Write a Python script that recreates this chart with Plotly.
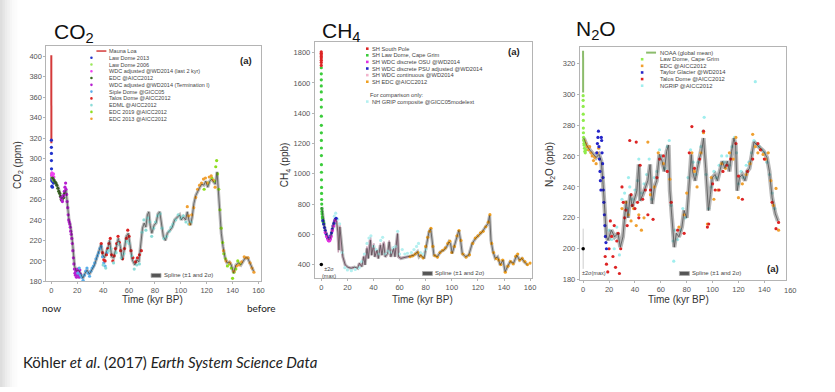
import plotly.graph_objects as go

W, H = 835, 392
FONT = "Liberation Sans"

# ---------------------------------------------------------------- CO2 data
co2_spline = [(0, 282), (1.3, 280), (3.1, 277), (5.1, 272), (6.7, 266), (7.7, 261), (9.2, 262), (10.2, 267),
              (11.3, 269), (12.3, 256), (13.6, 240), (14.6, 235), (15.6, 227), (16.6, 214), (17.9, 195),
              (19.2, 190), (21, 191), (22.5, 188), (24.3, 183), (26.1, 188), (27.6, 191), (29.4, 187),
              (31.2, 191), (33.3, 196), (35.3, 204), (37.1, 211), (38.4, 216), (39.7, 206), (41, 203),
              (42.5, 209), (44, 214), (45, 220), (46.6, 204), (48.1, 203), (49.9, 214), (51.7, 222),
              (53.3, 214), (54.8, 201), (56.3, 211), (57.9, 224), (59.4, 227), (60.9, 214), (62.5, 201),
              (64.5, 196), (66, 201), (67.6, 199), (69.1, 214), (70.4, 232), (71.7, 237), (73, 233),
              (74.2, 245), (75.3, 248), (76.3, 235), (77.6, 227), (79.4, 235), (80.9, 237), (82.4, 246),
              (83.7, 248), (85, 237), (86.5, 224), (88.1, 220), (89.6, 227), (91.7, 230), (93.4, 233),
              (95.2, 240), (97.3, 243), (99.1, 245), (100.4, 240), (101.9, 243), (103.7, 240), (105, 248),
              (106.2, 240), (107.5, 235), (108.8, 243), (110.1, 256), (111.6, 264), (113.2, 269),
              (114.7, 272), (116.2, 275), (117.8, 274), (119.3, 278), (120.8, 272), (122.4, 278),
              (123.9, 280), (125.4, 277), (126.7, 275), (128, 287), (129, 266), (130, 246), (131.3, 227),
              (132.6, 214), (134.2, 203), (135.7, 198), (137.5, 199), (139, 196), (140.8, 188), (142.6, 196),
              (144.6, 198), (146.4, 196), (148, 199), (149.8, 203), (151.6, 203), (153.1, 199), (154.9, 195),
              (156.2, 190)]
co2_mauna_loa = [(-0.008, 315), (-0.015, 320), (-0.025, 331), (-0.035, 346), (-0.045, 361), (-0.055, 380),
                 (-0.065, 401)]
co2_law_dome_2013 = [(0.0, 311), (0.01, 318), (0.02, 305), (0.05, 298), (0.1, 290), (0.15, 284), (0.2, 281),
                     (0.3, 279), (0.4, 273), (0.5, 278), (0.7, 280), (0.8, 272), (0.9, 282), (1.1, 279),
                     (1.3, 277), (1.5, 280), (1.7, 276)]
co2_law_dome_2006 = [(0.05, 285), (0.3, 282), (0.6, 281), (1.0, 283), (1.4, 279)]
co2_wdc_last2 = [(0.1, 284), (0.4, 286), (0.8, 283), (1.2, 281), (1.6, 285), (1.9, 282)]
co2_edc = [(1.0, 281), (2.0, 279), (2.8, 277), (3.5, 276), (4.2, 274), (5.0, 271), (5.7, 268), (6.4, 266),
           (7.0, 263), (7.6, 260), (8.2, 259), (8.8, 261), (9.5, 262), (10.2, 266)]
co2_wdc_term1 = [(7.5, 262), (8.0, 260), (8.5, 258), (9.0, 263), (9.5, 264), (10.0, 268), (10.5, 272),
                 (11.0, 276), (11.3, 270), (11.8, 265), (12.2, 258), (12.6, 252), (13.0, 245), (13.4, 240),
                 (13.8, 238), (14.2, 236), (14.6, 233), (15.0, 229), (15.4, 226), (15.8, 222), (16.2, 217),
                 (16.6, 210), (17.0, 203), (17.4, 197), (17.8, 192), (18.2, 188), (18.6, 186), (19.0, 190),
                 (19.4, 184), (19.8, 187), (20.2, 192), (20.6, 186), (21.0, 189), (21.5, 184), (22.0, 191),
                 (22.5, 187)]
co2_siple = [(20.5, 188), (21.5, 193), (22.5, 186), (23.5, 184), (24.5, 181), (25.5, 186), (26.5, 190),
             (27.5, 193), (28.5, 188), (29.5, 185), (30.5, 190), (31.5, 193), (32.5, 195), (33.5, 198),
             (34.5, 202), (35.5, 205), (36.5, 208), (37.5, 212), (38.5, 214), (39.5, 204), (40.5, 198),
             (41.5, 195), (43, 208)]
co2_talos = [(38.5, 217), (39.5, 208), (40.5, 201), (41.5, 200), (42.5, 206), (43.5, 212), (44.5, 217),
             (45.5, 222), (46.5, 206), (47.5, 200), (48.5, 205), (49.5, 212), (50.5, 217), (51.5, 224),
             (52.5, 218), (53.5, 210), (55, 202), (56.5, 212), (58, 222), (59, 230), (60, 224), (61.5, 210),
             (63, 203), (65, 199), (66.5, 203), (68, 206), (69.5, 210)]
co2_edml = [(40, 196), (42, 193), (44, 210), (46, 212), (48, 198), (50, 208), (52, 217), (54, 203), (56, 207),
            (58, 219), (60, 217), (62, 205), (64, 192), (66, 196), (68, 197), (70, 228), (71.5, 240), (73, 230),
            (74.5, 242), (76, 238), (77.5, 224), (79, 232), (80.5, 238), (82, 244), (84, 246), (85.5, 232),
            (87, 222), (89, 224), (91, 229), (92.5, 233), (94, 236), (96, 240), (98, 245), (100, 242),
            (102, 244), (104, 238), (106, 236), (108, 238)]
co2_edc2019 = [(118, 270), (121, 276), (124, 281), (126, 278), (127, 292), (127.7, 298), (128.4, 285),
               (129.3, 270), (130.2, 250), (131.2, 232), (132.3, 218), (133.3, 207), (134.5, 202), (136, 195),
               (137.5, 197), (139, 193), (140, 183), (141, 189), (142.5, 192), (144, 200), (145.5, 197)]
co2_edc2013 = [(105, 253), (106, 244), (107, 236), (108.5, 245), (110, 252), (111.5, 262), (113, 270),
               (114.5, 274), (116, 276), (117.5, 280), (119, 281), (120.5, 276), (122, 282), (123.5, 283),
               (125, 279), (126.5, 272), (133, 210), (135, 200), (138, 198), (141, 190), (143, 195), (145, 196),
               (147, 199), (149, 204), (150.5, 203), (152, 203), (153.5, 198), (155, 193), (156.5, 189)]

co2_names = ["Mauna Loa", "Law Dome 2013", "Law Dome 2006", "WDC adjusted @WD2014 (last 2 kyr)",
             "EDC @AICC2012", "WDC adjusted @WD2014 (Termination I)", "Siple Dome @GICC05",
             "Talos Dome @AICC2012", "EDML @AICC2012", "EDC 2019 @AICC2012", "EDC 2013 @AICC2012"]
co2_colors = ["#d43a3a", "#2233cc", "#9be85a", "#f040f0", "#3b6a22", "#b61fd0", "#5aaeea", "#dd2424",
              "#8cdcd8", "#8ede20", "#f0a033"]
co2_data = [co2_mauna_loa, co2_law_dome_2013, co2_law_dome_2006, co2_wdc_last2, co2_edc, co2_wdc_term1,
            co2_siple, co2_talos, co2_edml, co2_edc2019, co2_edc2013]
co2_kinds = ["line"] + ["dot"] * 10

# ---------------------------------------------------------------- CH4 data
ch4_spline = [(0.3, 780), (0.8, 735), (2, 670), (3.3, 615), (4.6, 583), (5.6, 565), (6.9, 572), (8.1, 626),
              (9.4, 670), (10.7, 702), (11.7, 680), (12.7, 615), (13.5, 496), (14.2, 648), (15.2, 539),
              (16.5, 452), (18.3, 398), (20.3, 383), (22.9, 376), (25.4, 383), (27.9, 376), (29.2, 409),
              (31, 387), (32.5, 452), (33.5, 398), (35, 507), (36, 441), (37.6, 561), (38.6, 463), (40, 528),
              (41, 452), (42.7, 496), (43.7, 441), (45.2, 528), (46.5, 463), (47.7, 539), (49, 452),
              (50.8, 474), (52, 550), (53.3, 452), (55.4, 507), (56.4, 452), (58.4, 604), (59.2, 452),
              (61, 441), (63.5, 448), (66, 452), (68.6, 457), (71.1, 463), (73.7, 485), (74.9, 452),
              (76.2, 463), (78.7, 441), (80.8, 539), (82.5, 615), (83.8, 637), (85, 539), (86.3, 463),
              (88.9, 452), (91.4, 485), (94, 496), (96, 517), (97.8, 550), (99, 539), (100.3, 474),
              (101.6, 517), (103.6, 583), (105.4, 626), (106.7, 561), (108, 474), (110.5, 452), (113, 463),
              (115.6, 539), (118.1, 572), (120.6, 593), (123.2, 615), (125.7, 648), (127.7, 670), (129, 724),
              (130, 561), (131.6, 485), (133.3, 441), (135.1, 452), (137.1, 398), (139.2, 430), (140.9, 354),
              (142.7, 387), (144.8, 420), (147.3, 409), (149.8, 463), (151.9, 430), (153.7, 441),
              (155.4, 420), (158, 398)]
ch4_south_pole = [(-0.065, 1805), (-0.06, 1795), (-0.055, 1785), (-0.05, 1775), (-0.045, 1765),
                  (-0.04, 1750), (-0.035, 1735), (-0.03, 1715)]
ch4_law_dome = [(-0.03, 1700), (-0.025, 1660), (-0.02, 1620), (-0.015, 1580), (-0.01, 1540), (-0.005, 1490),
                (0.0, 1440), (0.01, 1380), (0.02, 1320), (0.03, 1270), (0.04, 1220), (0.05, 1170),
                (0.07, 1120), (0.09, 1060), (0.11, 1010), (0.14, 960), (0.17, 910), (0.2, 870), (0.25, 830),
                (0.3, 800), (0.4, 770), (0.5, 750), (0.6, 735), (0.8, 715), (1.0, 705), (1.3, 690), (1.6, 680),
                (1.9, 670)]
ch4_wdc_osu = [(3, 612), (4, 585), (5, 566), (5.5, 558), (6, 556), (6.5, 560), (7, 570), (7.5, 585),
               (8.5, 625), (9.5, 655), (10.5, 690)]
ch4_wdc_psu = [(1.2, 690), (1.8, 668), (2.4, 645), (3.0, 625), (3.6, 605), (4.2, 590), (4.8, 578), (5.4, 570),
               (6.0, 568), (6.6, 574), (7.2, 590), (7.8, 610), (8.4, 635), (9.0, 655), (9.6, 672), (10.2, 688),
               (10.8, 700), (11.4, 706)]
ch4_wdc_cont = [(11.5, 700), (12, 690), (12.5, 640), (13, 480), (13.3, 600), (13.8, 650), (14.3, 660),
                (14.8, 560), (15.5, 480), (16.5, 450), (17.5, 420), (18.5, 395), (20, 385), (22, 378),
                (24, 382), (26, 374), (28, 380), (29, 410), (30, 390), (31.5, 400), (32.5, 460), (33.5, 400),
                (34.5, 480), (35, 520), (35.8, 440), (37, 560), (37.8, 580), (38.5, 460), (39.5, 520),
                (40.3, 540), (41, 450), (42.5, 500), (43.5, 440), (44.5, 480), (45.2, 540), (46.3, 460),
                (47.5, 545), (48.2, 550), (49, 450), (50.5, 470), (51.5, 520), (52, 560), (53, 450),
                (54.5, 480), (55.5, 520), (56.5, 450), (57.5, 540), (58.4, 610), (59.2, 450), (60.5, 440),
                (62, 445), (64, 450), (66, 448), (68, 455)]
ch4_edc = [(68, 452), (70, 458), (72, 470), (74, 480), (76, 458), (78, 445), (80, 520), (81.5, 580),
           (83, 620), (84, 640), (85.5, 520), (87, 460), (89, 450), (91, 480), (93, 495), (95, 510), (97, 540),
           (98.5, 555), (100, 480), (102, 520), (104, 590), (105.5, 625), (107, 560), (108.5, 470), (111, 450),
           (113.5, 465), (116, 540), (118, 575), (120, 590), (122, 610), (124, 620), (126, 650), (128, 680),
           (129.2, 730), (130.5, 540), (132, 480), (134, 440), (136, 430), (137.5, 400), (139, 430),
           (141, 350), (143, 390), (145, 420), (147, 405), (149, 455), (150.5, 470), (152, 430), (154, 440),
           (156, 420), (158, 400), (160, 410)]
ch4_grip = [(10, 720), (11, 740), (12.5, 700), (14, 670), (16, 480), (18, 380), (20, 365), (23, 360), (26, 368),
            (29, 380), (31, 420), (33, 470), (35, 540), (36.5, 575), (38, 590), (40, 520), (42, 500),
            (44, 470), (45.5, 560), (47, 580), (49, 470), (51, 490), (53, 480), (55, 510), (57, 520),
            (58.5, 620), (60, 470), (62, 500), (64, 470), (66, 475), (69, 480), (71, 500), (73, 520),
            (74.5, 540), (76, 480), (78, 470), (80, 500)]
ch4_sigma = [(0, 400, 10)]

ch4_names = ["SH South Pole", "SH Law Dome, Cape Grim", "SH WDC discrete OSU @WD2014",
             "SH WDC discrete PSU adjusted @WD2014", "SH WDC continuous @WD2014", "SH EDC @AICC2012", "",
             "For comparison only:", "NH GRIP composite @GICC05modelext"]
ch4_colors = ["#dd2424", "#3ccc3c", "#e030e0", "#2424c8", "#f2b4cc", "#f0a020", None, None, "#b4f0f0"]

# ---------------------------------------------------------------- N2O data
n2o_spline = [(0.5, 271.5), (2.6, 267), (5, 264), (7.7, 261), (10, 259), (12.3, 261), (14, 256.6),
              (15.4, 241.7), (16.6, 224.7), (18, 207.7), (19.2, 205.5), (21.8, 212), (24.3, 207.7),
              (26.9, 210), (28.7, 201), (30.7, 207.7), (32, 220), (33.3, 231), (34.6, 220), (36.4, 235),
              (37.9, 227), (39.7, 233), (41.5, 237.5), (43, 254.5), (44, 231), (46, 235), (48, 239.6),
              (50, 244), (51.7, 254.5), (53.3, 229), (55, 239.6), (56.8, 244), (58.9, 261), (61, 256.6),
              (62.7, 250), (64.5, 263), (66, 267), (67, 237.5), (68.6, 220), (70.4, 201), (72, 210),
              (74, 207.7), (76.3, 214), (78, 224.7), (80, 220), (82, 241.7), (83.5, 261), (84.5, 250),
              (86.5, 244), (88.3, 252), (90, 259), (91.6, 263), (93, 271.5), (94.7, 252), (96.8, 224.7),
              (98.3, 235), (99.8, 246), (101.9, 248), (103.7, 244), (105.5, 250), (107.5, 256.6),
              (109.6, 252), (111.4, 256.6), (113, 250), (114.7, 263), (116.5, 271.5), (117.8, 267),
              (119, 237.5), (120.8, 246), (122.9, 248), (125, 244), (126.7, 250), (128.5, 252), (130, 259),
              (132, 269), (134.4, 267), (137, 265), (139.5, 263), (142, 259), (143.9, 250), (146, 233),
              (148.5, 222.6), (150.5, 218)]
n2o_noaa = [(-0.028, 301), (-0.035, 305), (-0.045, 311), (-0.055, 319), (-0.065, 328)]
n2o_law_dome = [(-0.02, 299), (-0.01, 296), (0.0, 292), (0.05, 287), (0.1, 283), (0.15, 278), (0.2, 275),
                (0.3, 272), (0.45, 270), (0.6, 268), (0.8, 267), (1.0, 265), (1.3, 263), (1.6, 262),
                (2.0, 264)]
n2o_edc = [(1, 270), (2, 268), (3, 266), (4, 264), (5, 266), (6, 262), (7, 260), (8, 257), (9, 259),
           (10, 255), (11, 262), (12, 265), (30, 226), (33, 230), (35, 222), (37, 218), (39, 226), (41, 215),
           (43, 222), (45, 212), (47, 220), (50, 269), (52, 235), (55, 240), (58, 262), (62, 255), (67, 245),
           (74, 214), (78, 222), (80, 236), (84, 262), (86, 250), (88, 240), (91, 262), (93, 275), (96, 216),
           (99, 246), (101, 232), (104, 238), (107, 255), (110, 252), (113, 262), (116, 258), (118, 272),
           (120, 233), (123, 242), (126, 248), (129, 255), (131, 274), (133, 266), (135, 262), (137, 264),
           (139, 261), (141, 258), (143, 262), (145, 244), (147, 228), (149, 239), (151, 212)]
n2o_taylor = [(10.5, 262), (11, 268), (11.4, 272), (11.8, 276), (12.2, 266), (12.6, 258), (13, 250),
              (13.3, 244), (13.7, 238), (14, 272), (14.3, 270), (14.6, 262), (15, 255), (15.3, 246),
              (15.6, 238), (16, 230), (16.4, 222), (16.8, 215), (17.2, 208), (17.6, 204), (18, 200)]
n2o_talos = [(17, 195), (18, 190), (19, 185), (20, 200), (21, 218), (22, 208), (23, 195), (24, 215),
             (25, 188), (26, 205), (27, 210), (28, 184), (29, 200), (30, 240), (31, 230), (32, 220), (33, 225),
             (34, 215), (36, 270), (37, 235), (38, 228), (40, 226), (41, 269), (42, 230), (43, 220), (44, 254),
             (46, 232), (48, 238), (50, 222), (52, 238), (54, 219), (57, 246), (59, 258), (62, 260), (65, 250),
             (68, 230), (73, 212), (78, 210), (82, 262), (84, 279), (86, 252), (90, 258), (93, 276), (96, 214),
             (97, 216), (100, 242), (102, 238), (105, 238), (108, 250), (111, 254), (114, 258), (118, 268),
             (120, 247), (123, 232), (127, 250), (131, 258), (135, 268), (137, 264), (140, 258), (146, 230),
             (149, 213), (151, 217)]
n2o_ngrip = [(20, 212), (22, 206), (24, 200), (26, 214), (28, 196), (30, 232), (32, 236), (34, 226), (35, 246),
             (36, 240), (38, 232), (40, 238), (42, 244), (43, 258), (45, 236), (47, 242), (49, 248), (51, 258),
             (53, 232), (55, 246), (57, 250), (59, 264), (61, 260), (63, 252), (65, 266), (66.5, 270),
             (68, 228), (69.5, 205), (70, 192), (71, 212), (73, 206), (75, 212), (77, 226), (79, 220),
             (81, 246), (83, 264), (85, 256), (87, 248), (89, 256), (91, 266), (92.5, 276), (93.5, 285),
             (95, 248), (97, 226), (99, 240), (101, 250), (103, 246), (105, 254), (107, 260), (109, 256),
             (111, 260), (113, 254), (115, 266), (117, 272), (118.5, 262), (120, 242), (122, 250), (124, 246),
             (126, 254), (128, 256), (130, 262), (132, 270), (133, 308), (134, 268), (136, 266), (138, 264),
             (140, 262), (142, 256), (144, 248), (146, 236), (148, 226)]
n2o_sigma = [(0, 200, 13)]

n2o_names = ["NOAA (global mean)", "Law Dome, Cape Grim", "EDC @AICC2012", "Taylor Glacier @WD2014",
             "Talos Dome @AICC2012", "NGRIP @AICC2012"]
n2o_colors = ["#8cbc6c", "#90ec4c", "#f0a030", "#2424c8", "#dd2424", "#a0eeee"]
n2o_kinds = ["line"] + ["dot"] * 5

x_ticks = [0, 20, 40, 60, 80, 100, 120, 140, 160]
co2_yticks = [180, 200, 220, 240, 260, 280, 300, 320, 340, 360, 380, 400]
ch4_yticks = [400, 600, 800, 1000, 1200, 1400, 1600, 1800]
n2o_yticks = [180, 200, 220, 240, 260, 280, 300, 320]

# ---------------------------------------------------------------- layout geometry (pixels)
panels = [
    dict(ax="", xpx=(46.7, 262.5), ypx=(47, 285), xr=(-3.84, 161.9), yr=(180, 409.6), yt=co2_yticks),
    dict(ax="2", xpx=(316.7, 535.0), ypx=(43, 282), xr=(-5.0, 161.3), yr=(309, 1867), yt=ch4_yticks),
    dict(ax="3", xpx=(583.3, 790.7), ypx=(48, 283.3), xr=(-2.6, 156.7), yr=(180, 330.2), yt=n2o_yticks),
]


def fx(p):
    return p / W


def fy(p):
    return 1 - p / H


def xs(d):
    return [a[0] for a in d]


def ys(d):
    return [a[1] for a in d]


fig = go.Figure()
axes = {}
for p in panels:
    a = p["ax"]
    tickfont = dict(family=FONT, size=7.5, color="#555555")
    common = dict(showline=True, linecolor="#b4b4b4", linewidth=1, mirror=True, ticks="outside", ticklen=2,
                  tickcolor="#b4b4b4", tickfont=tickfont, showgrid=False, zeroline=False)
    axes["xaxis" + a] = dict(common, domain=[fx(p["xpx"][0]), fx(p["xpx"][1])], range=list(p["xr"]),
                             tickvals=x_ticks, anchor="y" + a)
    axes["yaxis" + a] = dict(common, domain=[fy(p["ypx"][1]), fy(p["ypx"][0])], range=list(p["yr"]),
                             tickvals=p["yt"], anchor="x" + a)


def spline(data, a, band="rgba(120,120,120,0.5)", bw=3.2, core="#2a2a2a", cw=0.8, layer="band"):
    if layer == "band":
        fig.add_trace(go.Scatter(x=xs(data), y=ys(data), mode="lines", xaxis="x" + a, yaxis="y" + a,
                                 line=dict(color=band, width=bw), showlegend=False, hoverinfo="skip"))
    else:
        fig.add_trace(go.Scatter(x=xs(data), y=ys(data), mode="lines", xaxis="x" + a, yaxis="y" + a,
                                 line=dict(color=core, width=cw), opacity=0.7, showlegend=False,
                                 hoverinfo="skip"))


def pts(data, a, color, size=3.2):
    fig.add_trace(go.Scatter(x=xs(data), y=ys(data), mode="markers", xaxis="x" + a, yaxis="y" + a,
                             marker=dict(color=color, size=size, line=dict(width=0)), showlegend=False))


def line(data, a, color, width=1.5):
    fig.add_trace(go.Scatter(x=xs(data), y=ys(data), mode="lines", xaxis="x" + a, yaxis="y" + a,
                             line=dict(color=color, width=width), showlegend=False))


# CO2 panel
spline(co2_spline, "")
for d, c, k in zip(co2_data, co2_colors, co2_kinds):
    if k == "line":
        line(d, "", c, 2)
    else:
        pts(d, "", c)
spline(co2_spline, "", layer="core")

# CH4 panel
spline(ch4_spline, "2")
line(ch4_wdc_cont, "2", "#c7a1b6", 1.5)
pts(ch4_grip, "2", ch4_colors[8])
pts(ch4_edc, "2", ch4_colors[5])
pts(ch4_law_dome, "2", ch4_colors[1])
pts(ch4_south_pole, "2", ch4_colors[0])
pts(ch4_wdc_psu, "2", ch4_colors[3])
pts(ch4_wdc_osu, "2", ch4_colors[2])
spline(ch4_spline, "2", layer="core")
fig.add_trace(go.Scatter(x=[s[0] for s in ch4_sigma], y=[s[1] for s in ch4_sigma], mode="markers",
                         xaxis="x2", yaxis="y2", marker=dict(color="black", size=3.5),
                         error_y=dict(type="data", array=[s[2] for s in ch4_sigma], color="#cccccc",
                                      thickness=1, width=0), showlegend=False))

# N2O panel
pts(n2o_ngrip, "3", n2o_colors[5])
spline(n2o_spline, "3", band="rgba(80,80,80,0.42)", bw=4.2)
pts(n2o_edc, "3", n2o_colors[2])
pts(n2o_talos, "3", n2o_colors[4])
pts(n2o_taylor, "3", n2o_colors[3])
pts(n2o_law_dome, "3", n2o_colors[1])
line(n2o_noaa, "3", n2o_colors[0], 2)
spline(n2o_spline, "3", layer="core")
fig.add_trace(go.Scatter(x=[s[0] for s in n2o_sigma], y=[s[1] for s in n2o_sigma], mode="markers",
                         xaxis="x3", yaxis="y3", marker=dict(color="black", size=3.5),
                         error_y=dict(type="data", array=[s[2] for s in n2o_sigma], color="#cccccc",
                                      thickness=1, width=0), showlegend=False))

# ---------------------------------------------------------------- annotations
ann = []
shapes = []


def txt(x, y, text, size=6, color="#444444", xa="left", ya="middle", family=FONT, angle=0):
    ann.append(dict(x=fx(x), y=fy(y), xref="paper", yref="paper", text=text, showarrow=False,
                    xanchor=xa, yanchor=ya, textangle=angle,
                    font=dict(family=family, size=size, color=color)))


def swatch_line(x0, x1, y, color, width):
    shapes.append(dict(type="line", xref="paper", yref="paper", x0=fx(x0), x1=fx(x1), y0=fy(y), y1=fy(y),
                       line=dict(color=color, width=width)))


def swatch_dot(xc, y, color, r=1.3, kind="circle"):
    shapes.append(dict(type=kind, xref="paper", yref="paper", x0=fx(xc - r), x1=fx(xc + r), y0=fy(y + r),
                       y1=fy(y - r), fillcolor=color, line=dict(width=0)))


# legend CO2
for i, (n, c, k) in enumerate(zip(co2_names, co2_colors, co2_kinds)):
    yy = 51.7 + i * 6.85
    if k == "line":
        swatch_line(97, 107, yy, c, 1.5)
    else:
        swatch_dot(92, yy, c)
    txt(108, yy, n, size=5.5)

# legend CH4
for i, (n, c) in enumerate(zip(ch4_names, ch4_colors)):
    yy = 49.3 + i * 6.7
    if n == "":
        continue
    if c is not None:
        swatch_dot(369.5, yy, c, kind="rect")
        txt(372, yy, n, size=5.7)
    else:
        txt(370, yy, n, size=5.7)

# legend N2O
for i, (n, c, k) in enumerate(zip(n2o_names, n2o_colors, n2o_kinds)):
    yy = 53.3 + i * 6.7
    if k == "line":
        swatch_line(650, 660, yy, c, 2)
    else:
        swatch_dot(646, yy, c, kind="rect")
    txt(662, yy, n, size=5.8)

# spline keys
for x0, y0 in [(152, 279), (425, 277), (683.5, 277)]:
    shapes.append(dict(type="rect", xref="paper", yref="paper", x0=fx(x0), x1=fx(x0 + 10), y0=fy(y0 + 2),
                       y1=fy(y0 - 2), fillcolor="#555555", line=dict(color="#aaaaaa", width=0.8)))
    txt(x0 + 11, y0, "Spline (±1 and 2σ)", size=6)

# (a) labels
for x0, y0 in [(247.5, 61), (517.5, 52), (778, 272)]:
    txt(x0, y0, "<b>(a)</b>", size=9.5, color="#222222", xa="center")

# sigma labels
txt(321.5, 276, "±2σ<br>(max)", size=5.5)
txt(583.8, 277, "±2σ(max)", size=5.5)

# axis titles
for xc in [153, 425, 683]:
    txt(xc, 303.5, "Time (kyr BP)", size=10, color="#333333", xa="center")
txt(18.3, 167, "CO<sub>2</sub> (ppm)", size=10, color="#333333", xa="center", angle=-90)
txt(287, 167, "CH<sub>4</sub> (ppb)", size=10, color="#333333", xa="center", angle=-90)
txt(553.5, 167, "N<sub>2</sub>O (ppb)", size=10, color="#333333", xa="center", angle=-90)

# N2O "160" tick label lies beyond the frame
p3 = panels[2]
px160 = p3["xpx"][0] + (160 - p3["xr"][0]) / (p3["xr"][1] - p3["xr"][0]) * (p3["xpx"][1] - p3["xpx"][0])
txt(px160, 294.5, "160", size=7.5, color="#555555", xa="center")

# panel titles
txt(52, 33, "CO<sub>2</sub>", size=21, color="#111111", family="Liberation Sans")
txt(322, 32, "CH<sub>4</sub>", size=21, color="#111111", family="Liberation Sans")
txt(577, 30, "N<sub>2</sub>O", size=21, color="#111111", family="Liberation Sans")

# slide captions
txt(52, 312, "now", size=10, color="#222222", xa="center", family="Lato")
txt(263, 312, "before", size=10, color="#222222", xa="center", family="Lato")
txt(21, 366.5, "Köhler <i>et al</i>. (2017) <i>Earth System Science Data</i>", size=15, color="#222222",
    family="Lato")

# slide edge shadow
for i, alpha in enumerate([0.13, 0.10, 0.075, 0.055, 0.035, 0.02, 0.01]):
    shapes.append(dict(type="rect", xref="paper", yref="paper", x0=fx(i * 2.5), x1=fx(i * 2.5 + 2.5), y0=0,
                       y1=1, fillcolor="rgba(0,0,0,%g)" % alpha, line=dict(width=0), layer="below"))

fig.update_layout(width=W, height=H, margin=dict(l=0, r=0, t=0, b=0), paper_bgcolor="white",
                  plot_bgcolor="white", showlegend=False, annotations=ann, shapes=shapes, **axes)
fig.write_html("out.html", config={"displayModeBar": False},
               post_script="document.body.style.margin='0';document.body.style.overflow='hidden';")
